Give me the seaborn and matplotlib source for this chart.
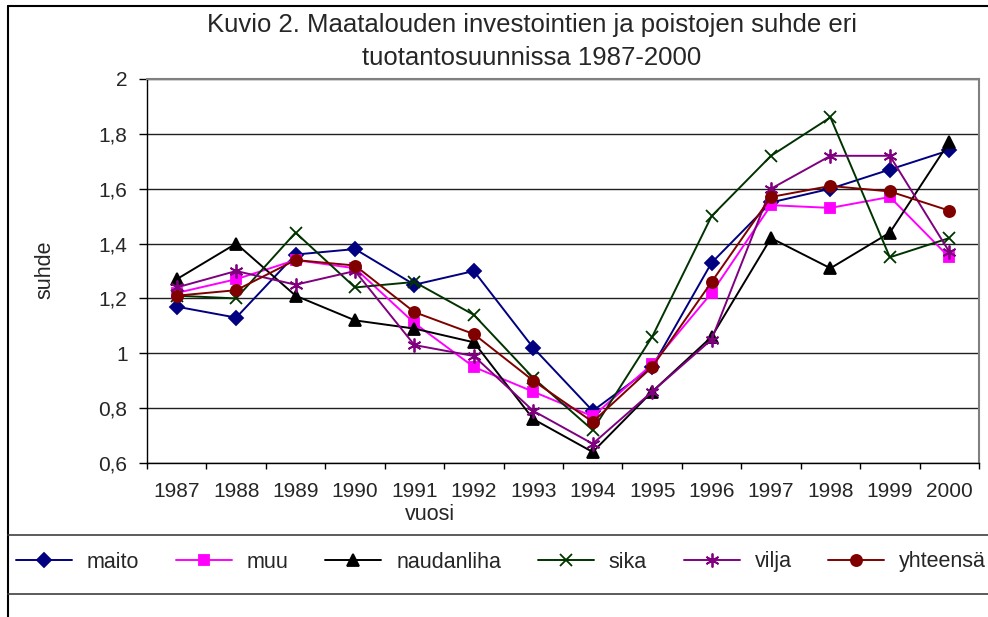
import numpy as np
import pandas as pd
import matplotlib
matplotlib.use("Agg")
import matplotlib.pyplot as plt
import matplotlib.ticker as ticker
from matplotlib.lines import Line2D
import seaborn as sns

# data
vuodet = list(range(1987, 2001))
maito = [1.17, 1.13, 1.36, 1.38, 1.25, 1.30, 1.02, 0.79, 0.95, 1.33, 1.55, 1.60, 1.67, 1.74]
muu = [1.22, 1.27, 1.34, 1.31, 1.11, 0.95, 0.86, 0.77, 0.96, 1.22, 1.54, 1.53, 1.57, 1.35]
naudanliha = [1.27, 1.40, 1.21, 1.12, 1.09, 1.04, 0.76, 0.64, 0.86, 1.06, 1.42, 1.31, 1.44, 1.77]
sika = [1.21, 1.20, 1.44, 1.24, 1.26, 1.14, 0.91, 0.72, 1.06, 1.50, 1.72, 1.86, 1.35, 1.42]
vilja = [1.24, 1.30, 1.25, 1.30, 1.03, 0.99, 0.79, 0.67, 0.86, 1.05, 1.60, 1.72, 1.72, 1.37]
yhteensa = [1.21, 1.23, 1.34, 1.32, 1.15, 1.07, 0.90, 0.75, 0.95, 1.26, 1.57, 1.61, 1.59, 1.52]

sarjat = ["maito", "muu", "naudanliha", "sika", "vilja", "yhteensä"]
arvot = [maito, muu, naudanliha, sika, vilja, yhteensa]
varit = ["#000080", "#FF00FF", "#000000", "#003300", "#800080", "#800000"]
merkit = ["D", "s", "^", "x", (6, 2, 0), "o"]
koot = [7, 7, 8, 9, 10, 8]

df = pd.DataFrame({
    "vuosi": vuodet * len(sarjat),
    "suhde": sum(arvot, []),
    "sarja": np.repeat(sarjat, len(vuodet)),
})

sns.set_style("white")
plt.rcParams["font.family"] = ["Liberation Sans", "DejaVu Sans"]

fig = plt.figure(figsize=(9.88, 6.17), dpi=100)
ax = fig.add_axes([147 / 988, 1 - 463 / 617, (979 - 147) / 988, (463 - 79) / 617])

for nimi, vari, merkki, koko in zip(sarjat, varit, merkit, koot):
    sns.lineplot(data=df[df["sarja"] == nimi], x="vuosi", y="suhde", ax=ax,
                 color=vari, marker=merkki, markersize=koko,
                 markeredgecolor=vari, markerfacecolor=vari,
                 markeredgewidth=1.3, linewidth=1.4, label=nimi, legend=False)

ax.set_xlim(1986.5, 2000.5)
ax.set_ylim(0.6, 2.0)
ax.set_xticks(vuodet)
ax.set_xticks(np.arange(1986.5, 2001, 1), minor=True)
ax.set_yticks(np.arange(0.6, 2.01, 0.2))
ax.yaxis.set_major_formatter(ticker.FuncFormatter(lambda v, p: f"{v:g}".replace(".", ",")))
ax.tick_params(axis="x", which="major", length=0, pad=14, labelsize=15)
ax.tick_params(axis="x", which="minor", length=4, width=1, direction="out", color="black", bottom=True)
ax.tick_params(axis="y", length=6, width=1, direction="out", color="black", left=True, pad=8, labelsize=15)
ax.yaxis.grid(True, color="#202020", linewidth=1)
ax.xaxis.grid(False)
ax.set_xlabel("")
ax.set_ylabel("")
for s in ["top", "right"]:
    ax.spines[s].set_color("#808080")
    ax.spines[s].set_linewidth(1.5)
for s in ["left", "bottom"]:
    ax.spines[s].set_color("black")
    ax.spines[s].set_linewidth(1)

fig.text(0.538, 1 - 25 / 617, "Kuvio 2. Maatalouden investointien ja poistojen suhde eri",
         ha="center", va="center", fontsize=18.5)
fig.text(0.538, 1 - 58 / 617, "tuotantosuunnissa 1987-2000", ha="center", va="center", fontsize=18.5)
fig.text(45 / 988, 1 - 270 / 617, "suhde", rotation=90, ha="center", va="center", fontsize=15.5)
fig.text(430 / 988, 1 - 515 / 617, "vuosi", ha="center", va="center", fontsize=15.5)

# outer frame and legend box
fig.add_artist(Line2D([8 / 988, 8 / 988], [0, 1 - 6 / 617], color="black", lw=1.5))
fig.add_artist(Line2D([8 / 988, 1], [1 - 6 / 617, 1 - 6 / 617], color="black", lw=1.5))
for yy in [535, 594]:
    fig.add_artist(Line2D([8 / 988, 1], [1 - yy / 617, 1 - yy / 617], color="#404040", lw=1.2))

handles, labels = ax.get_legend_handles_labels()
fig.legend(handles, labels, loc="center", bbox_to_anchor=(0.507, 1 - 562 / 617), ncol=6,
           frameon=False, fontsize=15.5, handlelength=2.6, handletextpad=0.7,
           columnspacing=1.7, numpoints=1)

fig.savefig("out.png", dpi=100)
